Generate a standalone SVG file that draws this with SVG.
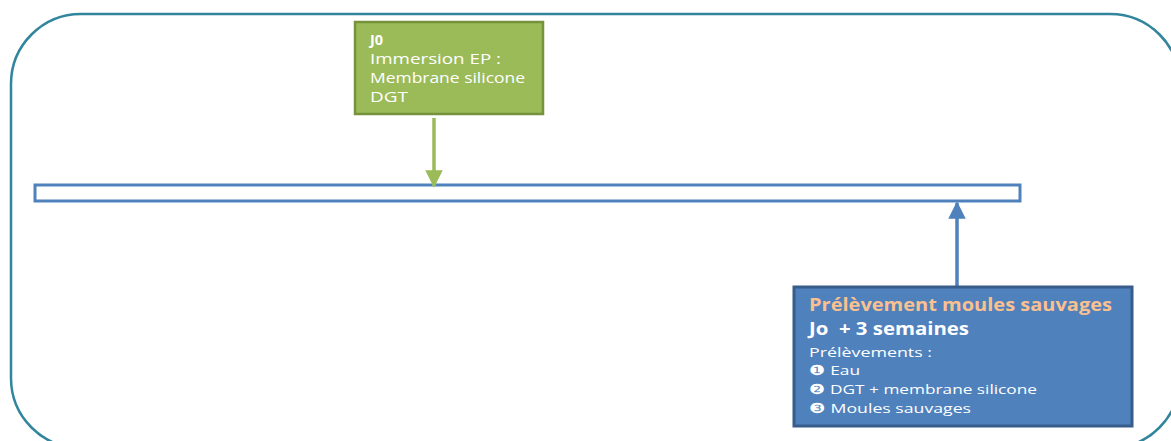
<svg xmlns="http://www.w3.org/2000/svg" width="1171" height="441" viewBox="0 0 1171 441">
<defs>
<style>
.t{font-family:"Open Sans","Liberation Sans",sans-serif;fill:#ffffff}
.b{font-weight:bold}
</style>
<marker id="ag" viewBox="0 0 10 10" refX="9" refY="5" markerWidth="5" markerHeight="5" orient="auto" markerUnits="strokeWidth"><path d="M0,0 L10,5 L0,10 z" fill="#9bbb59"/></marker>
<marker id="ab" viewBox="0 0 10 10" refX="9" refY="5" markerWidth="5" markerHeight="5" orient="auto" markerUnits="strokeWidth"><path d="M0,0 L10,5 L0,10 z" fill="#4f81bd"/></marker>
</defs>
<rect x="11" y="14" width="1169" height="434" rx="70" ry="70" fill="#ffffff" stroke="#31859c" stroke-width="2.5"/>
<g id="timeline">
<rect x="35" y="185" width="985" height="16" fill="#ffffff" stroke="#4f81bd" stroke-width="3"/>
</g>
<g id="connectors">
<line x1="434" y1="118" x2="434" y2="186" stroke="#9bbb59" stroke-width="3.5" marker-end="url(#ag)"/>
<line x1="957" y1="287" x2="957" y2="203" stroke="#4f81bd" stroke-width="3.5" marker-end="url(#ab)"/>
</g>
<g id="node-j0">
<rect x="355" y="22" width="188" height="92" fill="#9bbb59" stroke="#76923c" stroke-width="2.5"/>
<text class="t b" x="370" y="45" font-size="14.5">J0</text>
<text class="t" x="370" y="64" font-size="14.5" textLength="131" lengthAdjust="spacingAndGlyphs">Immersion EP :</text>
<text class="t" x="370" y="83" font-size="14.5" textLength="155" lengthAdjust="spacingAndGlyphs">Membrane silicone</text>
<text class="t" x="370" y="102" font-size="14.5" textLength="38" lengthAdjust="spacingAndGlyphs">DGT</text>
</g>
<g id="node-prelevement">
<rect x="794" y="287" width="338" height="139" fill="#4f81bd" stroke="#385d8a" stroke-width="3"/>
<text class="t b" x="809" y="311" font-size="17" fill="#fac090" style="fill:#fac090" textLength="303" lengthAdjust="spacingAndGlyphs">Prélèvement moules sauvages</text>
<text class="t b" x="809" y="335" font-size="17" xml:space="preserve" textLength="160" lengthAdjust="spacingAndGlyphs">Jo  + 3 semaines</text>
<text class="t" x="809" y="357" font-size="13.5" textLength="123" lengthAdjust="spacingAndGlyphs">Prélèvements :</text>
<text class="t" x="809" y="375" font-size="13.5" textLength="51" lengthAdjust="spacingAndGlyphs">❶ Eau</text>
<text class="t" x="809" y="394" font-size="13.5" textLength="228" lengthAdjust="spacingAndGlyphs">❷ DGT + membrane silicone</text>
<text class="t" x="809" y="413" font-size="13.5" textLength="162" lengthAdjust="spacingAndGlyphs">❸ Moules sauvages</text>
</g>
</svg>
